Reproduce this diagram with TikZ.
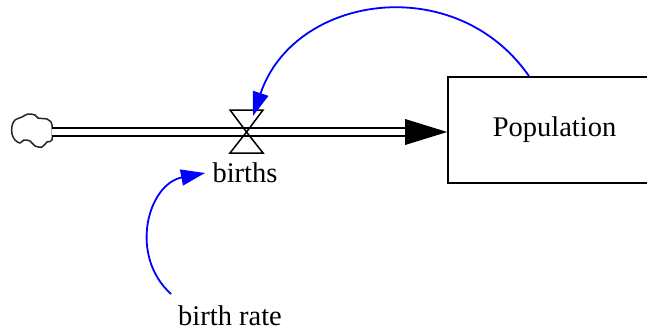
\documentclass[tikz,border=0pt]{standalone}
\usepackage{fontspec}
\newfontfamily\diagfont{Liberation Serif}
\usetikzlibrary{arrows.meta,calc}
\begin{document}
\begin{tikzpicture}[x=1pt,y=1pt,
  lbl/.style={font=\diagfont\fontsize{28.5}{30}\selectfont, inner sep=0pt},
  link/.style={draw=blue, line width=1.8pt, -{Triangle[length=24pt,width=16pt]}},
  pipe/.style={draw=black, line width=1.6pt, double=white, double distance=6.4pt},
  valveline/.style={draw=black, line width=1.5pt, line join=miter},
]
\useasboundingbox (0,0) rectangle (647,330);
\clip (0,0) rectangle (647,330);

% stock
\node[draw, line width=1.7pt, minimum width=213pt, minimum height=106pt, lbl] (pop) at (554.5,200) {Population};

% cloud (source)
\draw[line width=1.5pt, draw=black!85] plot[smooth cycle, tension=0.55] coordinates {
  (12,204) (15,210) (22,213) (28,216) (35,215) (38,212) (47,211) (50,209) (52,205)
  (52,190) (47,188) (42,183) (35,184) (30,189) (24,190) (20,187) (15,190) (12,196)};
\coordinate (cloud) at (52,198);

% valve
\coordinate (valve) at (246.5,198);
\coordinate (tip) at ($(pop.west)+(0,-2)$);
\coordinate (pipeend) at ($(tip)+(-42,0)$);

\draw[pipe] (cloud) -- (valve) -- (pipeend);
\fill (tip) -- ($(pipeend)+(0,13)$) -- ($(pipeend)+(0,-13)$) -- cycle;

\draw[valveline] (valve) -- ++(-16.5,22) -- ++(33,0) -- cycle;
\draw[valveline] (valve) -- ++(-16.5,-21) -- ++(33,0) -- cycle;

% labels
\node[lbl, anchor=base] (births) at (245,148) {births};
\node[lbl, anchor=base west] (br) at (178,5) {birth rate};

% links
\coordinate (popout) at ($(pop.north)+(-25.5,0)$);
\coordinate (valvein) at ($(valve)+(6.5,16)$);
\draw[link] (popout) to[out=124.7, in=71.4, looseness=1.18] (valvein);

\coordinate (brout) at (171,36);
\coordinate (birthsin) at (205,157);
\draw[link] (brout) to[out=137.7, in=190.9, looseness=1.18] (birthsin);
\end{tikzpicture}
\end{document}
